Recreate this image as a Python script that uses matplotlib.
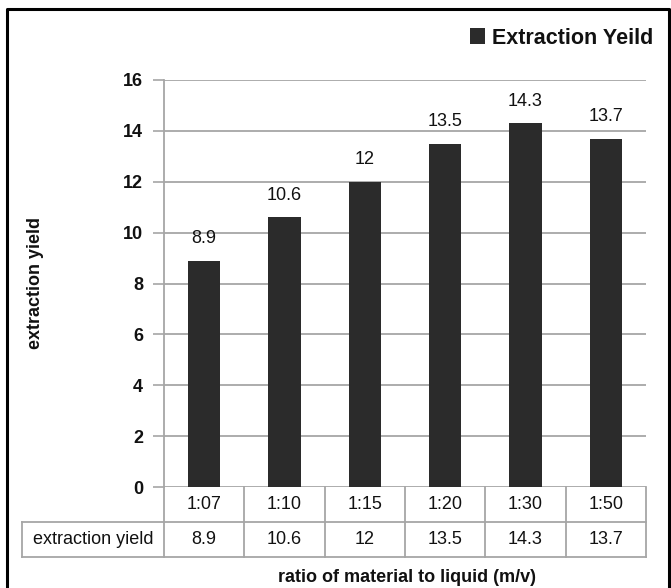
import matplotlib.pyplot as plt
from matplotlib.lines import Line2D

ratios = ['1:07', '1:10', '1:15', '1:20', '1:30', '1:50']
yields = [8.9, 10.6, 12, 13.5, 14.3, 13.7]
row_name = 'extraction yield'
y_ticks = [0, 2, 4, 6, 8, 10, 12, 14, 16]

plt.rcParams['font.family'] = ['Liberation Sans', 'DejaVu Sans']

W, H = 671, 588
fig = plt.figure(figsize=(W/100, H/100), dpi=100)

def fx(px):
    return px / W

def fy(py):
    return 1 - py / H

#plot area in pixel terms
left, right, top, bottom = 164, 646, 80, 487
ax = fig.add_axes([fx(left), fy(bottom), fx(right) - fx(left), fy(top) - fy(bottom)])

grid_c = '#a6a6a6'
bar_c = '#2b2b2b'
txt_c = '#111111'

x = [i + 0.5 for i in range(len(ratios))]
bars = ax.bar(x, yields, width=0.4, color=bar_c, zorder=3, label='Extraction Yeild')

ax.set_xlim(0, len(ratios))
ax.set_ylim(0, 16)
ax.set_yticks(y_ticks)
ax.set_yticklabels([str(t) for t in y_ticks], fontsize=13, fontweight='bold', color=txt_c)
ax.set_xticks([])
ax.tick_params(axis='y', length=8, width=1.2, color=grid_c, pad=7)
for t in y_ticks:
    ax.axhline(t, color=grid_c, lw=1.3, zorder=1)
for s in ['top', 'right', 'bottom']:
    ax.spines[s].set_visible(False)
ax.spines['left'].set_color(grid_c)
ax.spines['left'].set_linewidth(1.3)

#data labels
for xi, v in zip(x, yields):
    ax.annotate(f'{v:g}', (xi, v), xytext=(0, 16), textcoords='offset points',
                ha='center', va='center', fontsize=13, color=txt_c)

#data table below the axis
col_w = (right - left) / len(ratios)
row1_b, row2_b, tab_left = 522, 557, 22
lines = []
lines.append(([fx(tab_left), fx(right)], [fy(row1_b), fy(row1_b)]))
lines.append(([fx(tab_left), fx(right)], [fy(row2_b), fy(row2_b)]))
lines.append(([fx(tab_left), fx(tab_left)], [fy(row1_b), fy(row2_b)]))
for i in range(len(ratios) + 1):
    px = left + i * col_w
    lines.append(([fx(px), fx(px)], [fy(bottom), fy(row2_b)]))
for lx, ly in lines:
    fig.add_artist(Line2D(lx, ly, color=grid_c, lw=1.3))

for i, (r, v) in enumerate(zip(ratios, yields)):
    cx = fx(left + (i + 0.5) * col_w)
    fig.text(cx, fy((bottom + row1_b) / 2), r, ha='center', va='center', fontsize=13, color=txt_c)
    fig.text(cx, fy((row1_b + row2_b) / 2), f'{v:g}', ha='center', va='center', fontsize=13, color=txt_c)
fig.text(fx((tab_left + left) / 2), fy((row1_b + row2_b) / 2), row_name,
         ha='center', va='center', fontsize=13, color=txt_c)

#axis titles
fig.text(fx(407), fy(577), 'ratio of material to liquid (m/v)', ha='center', va='center',
         fontsize=13, fontweight='bold', color=txt_c)
fig.text(fx(35), fy(283), 'extraction yield', ha='center', va='center', rotation=90,
         fontsize=13, fontweight='bold', color=txt_c)

#legend
fig.legend(handles=[bars], loc='center right', bbox_to_anchor=(fx(668), fy(38)),
           frameon=False, handlelength=0.7, handleheight=0.7, handletextpad=0.3,
           borderpad=0.2, prop={'size': 15.5, 'weight': 'bold'}, labelcolor=txt_c)

#outer frame
fig.add_artist(Line2D([fx(7), fx(7), fx(669), fx(669)], [0, fy(9), fy(9), 0], color='black', lw=2.2))

fig.savefig('out.png', dpi=100, facecolor='white')
